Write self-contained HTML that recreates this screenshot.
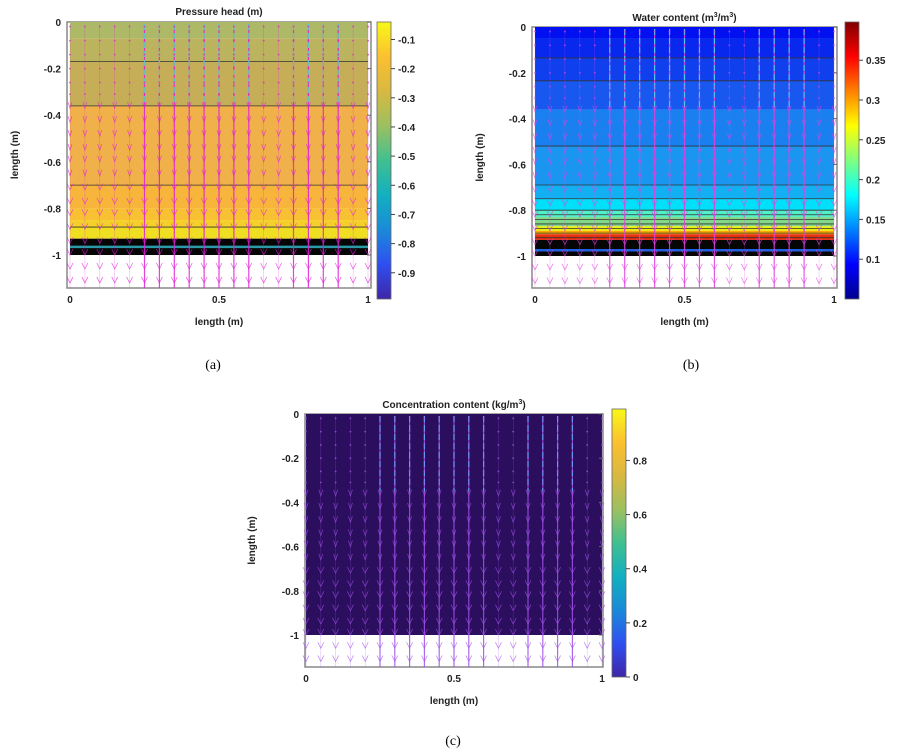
<!DOCTYPE html>
<html><head><meta charset="utf-8"><style>
html,body{margin:0;padding:0;background:#fff;}
svg{display:block;font-family:"Liberation Sans",sans-serif;}
.t{font-weight:bold;font-size:10px;fill:#222;}
.cap{font-family:"Liberation Serif",serif;font-size:14px;fill:#000;}
</style></head><body>
<svg id="s" width="904" height="755" xmlns="http://www.w3.org/2000/svg"></svg>
<script>
// ---- data ----
const colX = [0,0.05,0.1,0.15,0.2,0.25,0.3,0.35,0.4,0.45,0.5,0.55,0.6,0.65,0.7,0.75,0.8,0.85,0.9,0.95,1];
const colStrength = [0.6,0.5,0.5,0.5,0.8,1,1,1,1,1,0.9,0.9,0.9,0.8,0.8,0.9,0.9,1,1,0.8,0.6];
const arrowRows = [-0.02,-0.08,-0.14,-0.2,-0.26,-0.31,-0.37,-0.43,-0.49,-0.55,-0.6,-0.66,-0.72,-0.78,-0.83,-0.89,-0.95,-1.0,-1.06,-1.12];
const bandsA = [[0,-0.07,"#adb966"],[-0.07,-0.17,"#bcb35f"],[-0.17,-0.36,"#c6ae58"],[-0.36,-0.7,"#f0b04a"],[-0.7,-0.8,"#f7b53c"],[-0.8,-0.85,"#f8c133"],[-0.85,-0.88,"#f5d02b"],[-0.88,-0.93,"#efde22"],[-0.93,-1,"#050505"]];
const contoursA = [-0.17,-0.36,-0.7,-0.88];
const bandsB = [[0,-0.05,"#0010f0"],[-0.05,-0.135,"#0828ee"],[-0.135,-0.235,"#1040ee"],[-0.235,-0.36,"#1858ee"],[-0.36,-0.52,"#1a80f0"],[-0.52,-0.69,"#1a96f0"],[-0.69,-0.75,"#12b0f2"],[-0.75,-0.8,"#00e0f8"],[-0.8,-0.83,"#50f0c8"],[-0.83,-0.87,"#80d888"],[-0.87,-0.89,"#e8f010"],[-0.89,-0.905,"#f8a800"],[-0.905,-0.93,"#e83010"],[-0.93,-1,"#050505"]];
const contoursB = [-0.135,-0.235,-0.52,-0.69,-0.75,-0.8,-0.82,-0.84,-0.86,-0.88,-0.9,-0.92];
const yTicks = [0,-0.2,-0.4,-0.6,-0.8,-1];
const xTicks = [0,0.5,1];
const cbTicksA = [-0.1,-0.2,-0.3,-0.4,-0.5,-0.6,-0.7,-0.8,-0.9];
const cbTicksB = [0.1,0.15,0.2,0.25,0.3,0.35];
const cbTicksC = [0,0.2,0.4,0.6,0.8];

const NS="http://www.w3.org/2000/svg";
const svg=document.getElementById('s');
function el(tag,attrs,parent){const e=document.createElementNS(NS,tag);for(const k in attrs)e.setAttribute(k,attrs[k]);(parent||svg).appendChild(e);return e;}

function panel(p){
  const g=el('g',{});
  
  
  const X=v=>p.x0+v*(p.x1-p.x0);
  const Y=v=>p.y0+(-v)*(p.y1-p.y0);
  el('rect',{x:p.fl,y:p.y0,width:p.fr-p.fl,height:p.yb-p.y0,fill:'#fff',stroke:'#888','stroke-width':1.5},g);
  p.bands.forEach(b=>{
    const r=el('rect',{x:X(0),y:Y(b[0]),width:X(1)-X(0),height:Y(b[1])-Y(b[0]),fill:b[2]},g);
    
    
  });
  p.contours.forEach(c=>{el('line',{x1:X(0),x2:X(1),y1:Y(c),y2:Y(c),stroke:'#333','stroke-width':0.8},g);});
  if(p.extraLine!==undefined) el('line',{x1:X(0),x2:X(1),y1:Y(p.extraLine[0]),y2:Y(p.extraLine[0]),stroke:p.extraLine[1],'stroke-width':2.5},g);
  colX.forEach((cx,i)=>{
    const x=X(cx);const s=colStrength[i];
    el('line',{x1:x,x2:x,y1:Y(0)+2,y2:p.yb,stroke:p.arrowCol,'stroke-width':s>0.85?1.2:0.5,opacity:s>0.85?0.85:0.4},g);
    if(p.topLine && s>0.85) el('line',{x1:x,x2:x,y1:Y(0)+2,y2:Y(-0.35),stroke:p.topLine,'stroke-width':1.2,'stroke-dasharray':'6 3',opacity:0.8},g);
    arrowRows.forEach(ry=>{
      const y=Y(ry);
      const w = ry>-0.35? 0.5 : (ry>-0.7?2:3);
      if(ry>-0.35){el('circle',{cx:x,cy:y,r:0.9,fill:p.arrowCol,opacity:0.8},g);return;}
      const a=el('path',{d:`M${x-w} ${y-6}L${x} ${y}L${x+w} ${y-6}`,fill:'none',stroke:p.arrowCol,'stroke-width':0.7,opacity:0.75},g);
      
      
    });
  });
  yTicks.forEach(t=>{
    const tx=el('text',{x:p.fl-6,y:Y(t)+4,'text-anchor':'end',class:'t'},g);tx.textContent=t===0?'0':String(t);
    
    el('line',{x1:p.fr-4,x2:p.fr,y1:Y(t),y2:Y(t),stroke:'#666'},g);
  });
  xTicks.forEach(t=>{
    const tx=el('text',{x:X(t),y:p.yb+15,'text-anchor':'middle',class:'t'},g);tx.textContent=String(t);
    
  });
  const xl=el('text',{x:X(0.5),y:p.yb+37,'text-anchor':'middle',class:'t'},g);xl.textContent='length (m)';
  
  const yl=el('text',{x:0,y:0,'text-anchor':'middle',class:'t',transform:`translate(${p.ylx},${(p.y0+p.yb)/2}) rotate(-90)`},g);yl.textContent='length (m)';
  
  const ti=el('text',{x:X(0.5),y:p.ty,'text-anchor':'middle',class:'t'},g);ti.innerHTML=p.title;
  
  const gid='gr'+p.name;
  const lg=el('linearGradient',{id:gid,x1:0,y1:1,x2:0,y2:0},el('defs',{},g));
  p.cmap.forEach((c,i)=>el('stop',{offset:i/(p.cmap.length-1),'stop-color':c},lg));
  const cb=el('rect',{x:p.cbx,y:p.cby0,width:14,height:p.cby1-p.cby0,fill:`url(#${gid})`,stroke:'#666','stroke-width':0.8},g);
  
  const CY=v=>p.cby1-(v-p.cbmin)/(p.cbmax-p.cbmin)*(p.cby1-p.cby0);
  p.cbTicks.forEach(t=>{
    el('line',{x1:p.cbx+14,x2:p.cbx+18,y1:CY(t),y2:CY(t),stroke:'#444'},g);
    const tx=el('text',{x:p.cbx+21,y:CY(t)+4,class:'t'},g);tx.textContent=String(t);
    
  });
  const cap=el('text',{x:p.capx,y:p.capy,'text-anchor':'middle',class:'cap'},g);cap.textContent=p.cap;
  
}

panel({name:'pressure-head-panel',x0:70,x1:368,y0:22,y1:255,yb:288,fl:67,fr:371,ylx:18,ty:15,
  title:'Pressure head (m)',bands:bandsA,contours:contoursA,extraLine:[-0.965,'#2a9aa8'],
  arrowCol:'#e020d8',topLine:'#50e0c0',
  cbx:377,cby0:22,cby1:299,cbmin:-0.99,cbmax:-0.04,cbTicks:cbTicksA,
  cmap:['#3e26a8','#2f4ff0','#1a8ad8','#12b0c0','#40c090','#9cc060','#d8b840','#fcc030','#f8f818'],
  cap:'(a)',capx:213,capy:369});
panel({name:'water-content-panel',x0:535,x1:834,y0:27,y1:256,yb:288,fl:532,fr:837,ylx:483,ty:21,
  title:'Water content (m<tspan dy="-4" font-size="7">3</tspan><tspan dy="4">/m</tspan><tspan dy="-4" font-size="7">3</tspan><tspan dy="4">)</tspan>',
  bands:bandsB,contours:contoursB,extraLine:[-0.975,'#2060e0'],
  arrowCol:'#e040e0',topLine:'#40e0f0',
  cbx:845,cby0:22,cby1:299,cbmin:0.05,cbmax:0.398,cbTicks:cbTicksB,
  cmap:['#00008f','#0000ff','#0080ff','#00ffff','#80ff80','#ffff00','#ff8000','#ff0000','#800000'],
  cap:'(b)',capx:691,capy:369});
panel({name:'concentration-panel',x0:306,x1:602,y0:414,y1:635,yb:667,fl:305,fr:603,ylx:255,ty:408,
  title:'Concentration content (kg/m<tspan dy="-4" font-size="7">3</tspan><tspan dy="4">)</tspan>',
  bands:[[0,-1,'#2b0f5e']],contours:[],
  arrowCol:'#a050e8',topLine:'#60b0f0',
  cbx:612,cby0:409,cby1:677,cbmin:0,cbmax:0.99,cbTicks:cbTicksC,
  cmap:['#3e26a8','#2f4ff0','#1a8ad8','#12b0c0','#40c090','#9cc060','#d8b840','#fcc030','#f8f818'],
  cap:'(c)',capx:453,capy:745});
</script>
</body></html>
